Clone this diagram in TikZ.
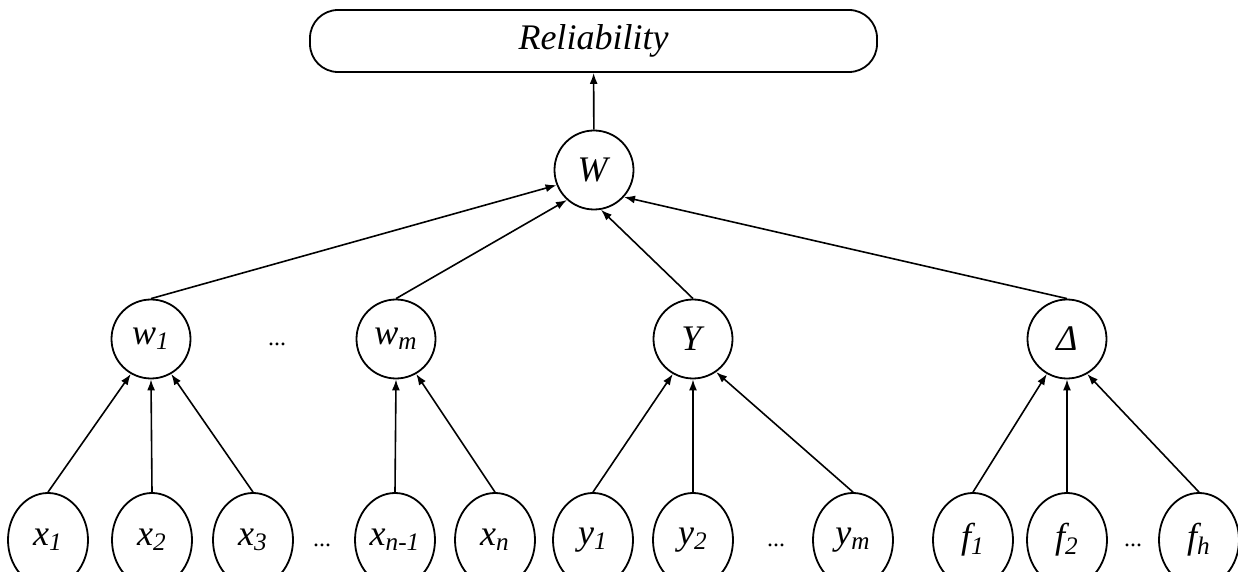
\documentclass[tikz,border=0pt]{standalone}
\usepackage{fontspec}
\setmainfont{Liberation Serif}
\usepackage{tikz}
\usetikzlibrary{arrows.meta,shapes.geometric,positioning}
\tikzstyle{var}=[draw,circle,minimum size=39.5pt,inner sep=0pt,line width=0.9pt]
\tikzstyle{obs}=[draw,ellipse,minimum width=40pt,minimum height=47pt,inner sep=0pt,line width=0.9pt]
\tikzstyle{goal}=[draw,rounded corners=14pt,minimum width=283.5pt,minimum height=31pt,line width=0.9pt]
\tikzstyle{dots}=[font=\fontsize{12}{14}\selectfont]
\newcommand{\lab}[2]{\textit{#1\textsubscript{#2}}}

\begin{document}
\begin{tikzpicture}[x=0.5pt,y=-0.5pt,>={Latex[length=5.5pt,width=4pt]},line width=0.8pt,font=\fontsize{18}{20}\selectfont]
    \useasboundingbox (0,0) rectangle (1238,572);

          \node[goal] (rel) at (593.5,41) {\textit{Reliability}};
          \node[var]  (W)   at (594,170)  {\textit{W}};

          \node[var]  (w_1) at (151,339)  {\lab{w}{1}};
          \node[dots] (d_w) at (277,344)  {...};
          \node[var]  (w_m) at (396,339)  {\lab{w}{m}};
          \node[var]  (Y)   at (693,339)  {\textit{Y}};
          \node[var]  (D)   at (1067,339) {\textit{Δ}};

          \node[obs]  (x_1) at (48,540)   {\lab{x}{1}};
          \node[obs]  (x_2) at (152,540)  {\lab{x}{2}};
          \node[obs]  (x_3) at (253,540)  {\lab{x}{3}};
          \node[dots] (d_x) at (322,545)  {...};
          \node[obs]  (x_k) at (395,540)  {\lab{x}{n-1}};
          \node[obs]  (x_n) at (495,540)  {\lab{x}{n}};
          \node[obs]  (y_1) at (593,540)  {\lab{y}{1}};
          \node[obs]  (y_2) at (693,540)  {\lab{y}{2}};
          \node[dots] (d_y) at (776,545)  {...};
          \node[obs]  (y_m) at (853,540)  {\lab{y}{m}};
          \node[obs]  (f_1) at (973,540)  {\lab{f}{1}};
          \node[obs]  (f_2) at (1067,540) {\lab{f}{2}};
          \node[dots] (d_f) at (1133,545) {...};
          \node[obs]  (f_h) at (1199,540) {\lab{f}{h}};

          \draw[->] (W) -- (rel);
          \draw[->] (w_1.north) -- (W.202);
          \draw[->] (w_m.north) -- (W.228);
          \draw[->] (Y.north)   -- (W.280);
          \draw[->] (D.north)   -- (W.318);

          \path[->] (x_1.north) edge (w_1.240)
                    (x_2.north) edge (w_1.south)
                    (x_3.north) edge (w_1.300)
                    (x_k.north) edge (w_m.south)
                    (x_n.north) edge (w_m.300)
                    (y_1.north) edge (Y.240)
                    (y_2.north) edge (Y.south)
                    (y_m.north) edge (Y.305)
                    (f_1.north) edge (D.240)
                    (f_2.north) edge (D.south)
                    (f_h.north) edge (D.300);
        \end{tikzpicture}
\end{document}
